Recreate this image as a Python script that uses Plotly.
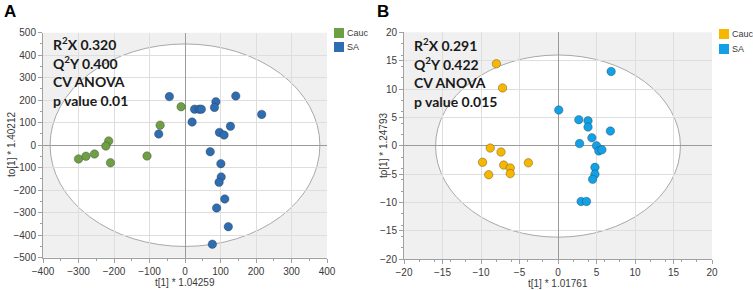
import plotly.graph_objects as go

# ---- Data: panel A ----
a_cauc_x = [-300, -279, -255, -215, -223, -210, -107, -70, -11]
a_cauc_y = [-61, -49, -39, 19, -4, -78, -48, 89, 171]
a_sa_x = [-44, 27, 40, 46, 87, 83, 143, 216, 20, -74, 128, 97, 110,
          71, 101, 102, 96, 112, 89, 122, 77]
a_sa_y = [216, 160, 160, 160, 193, 168, 219, 137, 103, 50, 84, 57, 45,
          -29, -82, -141, -165, -239, -279, -362, -440]

# ---- Data: panel B ----
b_cauc_x = [-8.0, -7.2, -8.8, -7.4, -9.8, -7.05, -6.2, -3.85, -9.0, -6.2]
b_cauc_y = [14.45, 10.2, -0.4, -1.1, -2.9, -3.4, -3.9, -3.0, -5.1, -4.9]
b_sa_x = [6.9, 0.1, 2.7, 3.9, 3.9, 6.8, 4.4, 2.8, 5.0, 5.3, 5.7, 4.8, 4.8, 4.5, 3.0, 3.7]
b_sa_y = [13.1, 6.3, 4.6, 4.4, 3.3, 2.6, 1.4, 0.4, 0.0, -0.9, -0.7, -3.8, -5.0, -5.9, -9.8, -9.8]

group_names = ["Cauc", "SA"]
a_stats = ["R<sup>2</sup>X 0.320", "Q<sup>2</sup>Y 0.400", "CV ANOVA", "p value 0.01"]
b_stats = ["R<sup>2</sup>X 0.291", "Q<sup>2</sup>Y 0.422", "CV ANOVA", "p value 0.015"]
a_titles = ["t[1] * 1.04259", "to[1] * 1.40212"]
b_titles = ["t[1] * 1.01761", "to[1] * 1.24793"]

a_ticks = [-400, -300, -200, -100, 0, 100, 200, 300, 400]
a_yticks = [-500, -400, -300, -200, -100, 0, 100, 200, 300, 400, 500]
b_ticks = [-20, -15, -10, -5, 0, 5, 10, 15, 20]

A_GREEN = "#6e9f45"
A_BLUE = "#2f6db3"
B_YELLOW = "#f5b700"
B_BLUE = "#12a1e6"

W, H = 753, 290
TICKFONT = dict(family="Liberation Sans, Arial", size=10, color="#3a3a3a")
LEGFONT = dict(family="Liberation Sans, Arial", size=9, color="#3a3a3a")

fig = go.Figure()

def pts(x, y, color, xa, ya, name):
    fig.add_trace(go.Scatter(
        x=x, y=y, mode="markers", xaxis=xa, yaxis=ya, showlegend=False, name=name,
        marker=dict(size=8.5, color=color, line=dict(color="rgba(40,40,40,0.55)", width=0.6)),
        hoverinfo="skip"))

pts(a_cauc_x, a_cauc_y, A_GREEN, "x", "y", group_names[0])
pts(a_sa_x, a_sa_y, A_BLUE, "x", "y", group_names[1])
pts(b_cauc_x, b_cauc_y, B_YELLOW, "x2", "y2", group_names[0])
pts(b_sa_x, b_sa_y, B_BLUE, "x2", "y2", group_names[1])

def px_x(p):
    return p / W

def px_y(p):
    return 1 - p / H

def minor():
    return dict(ticks="outside", ticklen=2, tickcolor="#a0a0a0", nticks=5, showgrid=False)

axis_common = dict(
    showgrid=True, gridcolor="#dedede", gridwidth=1,
    zeroline=True, zerolinecolor="#9a9a9a", zerolinewidth=1,
    showline=True, linecolor="#a0a0a0", linewidth=1,
    ticks="outside", ticklen=4, tickcolor="#a0a0a0",
    tickfont=TICKFONT,
    automargin=False, mirror=False,
)

fig.update_layout(
    width=W, height=H,
    margin=dict(l=0, r=0, t=0, b=0),
    paper_bgcolor="white",
    plot_bgcolor="#f0f0f0",
    showlegend=False,
    xaxis=dict(axis_common, domain=[px_x(43), px_x(327)], range=[-400, 400],
               tickvals=a_ticks, anchor="y", minor=minor()),
    yaxis=dict(axis_common, domain=[px_y(257.7), px_y(32.7)], range=[-500, 500],
               tickvals=a_yticks, anchor="x", minor=minor()),
    xaxis2=dict(axis_common, domain=[px_x(404), px_x(712)], range=[-20, 20],
                tickvals=b_ticks, anchor="y2", minor=minor()),
    yaxis2=dict(axis_common, domain=[px_y(259.3), px_y(32.3)], range=[-20, 20],
                tickvals=b_ticks, anchor="x2", minor=minor()),
)

def ann(text, x_px, y_px, font, angle=0, xanchor="center"):
    fig.add_annotation(text=text, xref="paper", yref="paper", x=px_x(x_px), y=px_y(y_px),
                       xanchor=xanchor, yanchor="middle", showarrow=False,
                       textangle=angle, font=font)

# axis titles
ann(a_titles[0], 185, 282, TICKFONT)
ann(a_titles[1], 11, 145, TICKFONT, angle=-90)
ann(b_titles[0], 558, 283, TICKFONT)
ann(b_titles[1], 383, 146, TICKFONT, angle=-90)

# Hotelling ellipses
fig.add_shape(type="circle", xref="x", yref="y", x0=-380, x1=380, y0=-450, y1=450,
              fillcolor="white", line=dict(color="#a8a8a8", width=1), layer="below")
fig.add_shape(type="circle", xref="x2", yref="y2", x0=-15.9, x1=15.9, y0=-16.1, y1=16.0,
              fillcolor="white", line=dict(color="#a8a8a8", width=1), layer="below")

# legends (swatch + label)
def legend_item(x_px, y_px, color, label):
    fig.add_shape(type="rect", xref="paper", yref="paper",
                  x0=px_x(x_px), x1=px_x(x_px + 10), y0=px_y(y_px + 10), y1=px_y(y_px),
                  fillcolor=color, line=dict(width=0))
    ann(label, x_px + 11, y_px + 5, LEGFONT, xanchor="left")

legend_item(334, 28, A_GREEN, group_names[0])
legend_item(334, 42, A_BLUE, group_names[1])
legend_item(719, 29, B_YELLOW, group_names[0])
legend_item(719, 44, B_BLUE, group_names[1])

# stats text
STATFONT = dict(family="Lato", size=14, color="#1a1a1a", weight="bold")
for i, t in enumerate(a_stats):
    ann(t, 51, 43.5 + 19 * i, STATFONT, xanchor="left")
for i, t in enumerate(b_stats):
    ann(t, 412, 44.5 + 19 * i, STATFONT, xanchor="left")

# panel letters
LETTERFONT = dict(family="Liberation Sans, Arial", size=17, color="black", weight="bold")
ann("A", 2, 12, LETTERFONT, xanchor="left")
ann("B", 375, 12, LETTERFONT, xanchor="left")

fig.write_html("out.html", config={"displayModeBar": False},
               post_script="document.body.style.margin='0';document.body.style.padding='0';")
